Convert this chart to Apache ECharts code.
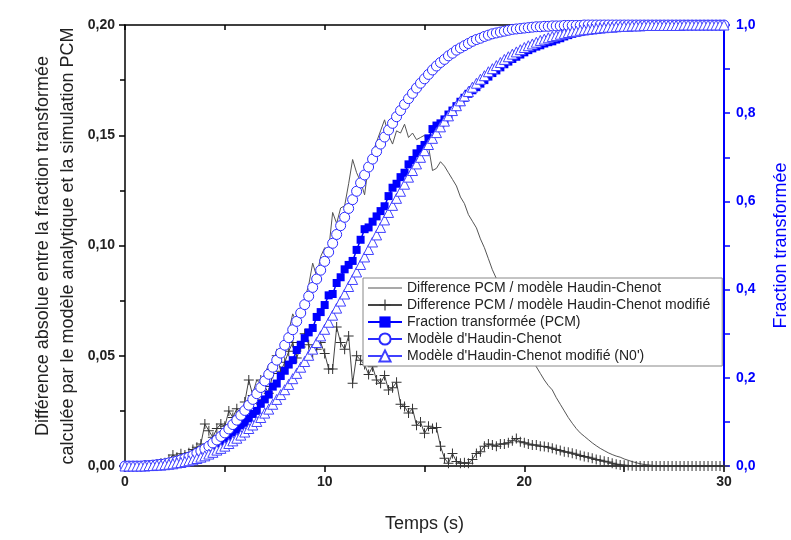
<!DOCTYPE html>
<html>
<head>
<meta charset="utf-8">
<script src="https://cdn.jsdelivr.net/npm/echarts@6/dist/echarts.min.js"></script>
<style>html,body{margin:0;padding:0;background:#fff;overflow:hidden}#c{width:791px;height:540px}</style>
</head>
<body>
<div id="c"></div>
<script>
var times = [
0,0.2,0.4,0.6,0.8, 1,1.2,1.4,1.6,1.8, 2,2.2,2.4,2.6,2.8, 3,3.2,3.4,3.6,3.8,
4,4.2,4.4,4.6,4.8, 5,5.2,5.4,5.6,5.8, 6,6.2,6.4,6.6,6.8, 7,7.2,7.4,7.6,7.8,
8,8.2,8.4,8.6,8.8, 9,9.2,9.4,9.6,9.8, 10,10.2,10.4,10.6,10.8, 11,11.2,11.4,11.6,11.8,
12,12.2,12.4,12.6,12.8, 13,13.2,13.4,13.6,13.8, 14,14.2,14.4,14.6,14.8, 15,15.2,15.4,15.6,15.8,
16,16.2,16.4,16.6,16.8, 17,17.2,17.4,17.6,17.8, 18,18.2,18.4,18.6,18.8, 19,19.2,19.4,19.6,19.8,
20,20.2,20.4,20.6,20.8, 21,21.2,21.4,21.6,21.8, 22,22.2,22.4,22.6,22.8, 23,23.2,23.4,23.6,23.8,
24,24.2,24.4,24.6,24.8, 25,25.2,25.4,25.6,25.8, 26,26.2,26.4,26.6,26.8, 27,27.2,27.4,27.6,27.8,
28,28.2,28.4,28.6,28.8, 29,29.2,29.4,29.6,29.8, 30];

// Différence PCM / modèle Haudin-Chenot (left axis)
var diffHC = [
0,0,0,0,0, 0.0003,0.0004,0.0006,0.0008,0.0010, 0.0012,0.0015,0.0018,0.0022,0.0026, 0.0032,0.0038,0.0045,0.0052,0.0060,
0.0072,0.0080,0.0092,0.0110,0.0122, 0.0135,0.0160,0.0175,0.0215,0.0230, 0.0280,0.0300,0.0330,0.0390,0.0370, 0.0420,0.0460,0.0440,0.0530,0.0520,
0.0580,0.0610,0.0690,0.0650,0.0720, 0.0760,0.0820,0.0920,0.0860,0.0950, 0.0990,0.0980,0.1150,0.1100,0.1170, 0.1180,0.1280,0.1390,0.1330,0.1290,
0.1230,0.1370,0.1420,0.1470,0.1520, 0.1570,0.1500,0.1460,0.1520,0.1510, 0.1550,0.1490,0.1510,0.1480,0.1490, 0.1500,0.1450,0.1340,0.1350,0.1380,
0.1360,0.1330,0.1300,0.1270,0.1220, 0.1190,0.1140,0.1110,0.1080,0.1030, 0.0990,0.0940,0.0890,0.0850,0.0800, 0.0750,0.0710,0.0670,0.0630,0.0590,
0.0550,0.0510,0.0480,0.0450,0.0420, 0.0390,0.0365,0.0345,0.0310,0.0280, 0.0250,0.0220,0.0194,0.0170,0.0150, 0.0135,0.0120,0.0105,0.0092,0.0080,
0.0070,0.0060,0.0052,0.0045,0.0040, 0.0032,0.0026,0.0020,0.0015,0.0010, 0.0007,0.0005,0.0003,0.0002,0.0001, 0,0,0,0,0,
0,0,0,0,0, 0,0,0,0,0, 0];

// Différence PCM / modèle Haudin-Chenot modifié (left axis)
var diffHCmod = [
0,0,0,0,0, 0.0002,0.0003,0.0005,0.0008,0.0012, 0.0015,0.0030,0.0050,0.0040,0.0055, 0.0050,0.0060,0.0075,0.0085,0.0100,
0.0190,0.0160,0.0130,0.0170,0.0190, 0.0180,0.0250,0.0220,0.0260,0.0240, 0.0290,0.0390,0.0320,0.0300,0.0390, 0.0360,0.0330,0.0420,0.0500,0.0430,
0.0470,0.0520,0.0560,0.0490,0.0540, 0.0600,0.0550,0.0510,0.0530,0.0560, 0.0510,0.0440,0.0440,0.0630,0.0560, 0.0530,0.0590,0.0375,0.0500,0.0480,
0.0460,0.0415,0.0450,0.0390,0.0375, 0.0410,0.0345,0.0355,0.0380,0.0280, 0.0270,0.0240,0.0260,0.0185,0.0200, 0.0148,0.0180,0.0170,0.0175,0.0090,
0.0035,0.0012,0.0057,0.0020,0.0012, 0.0015,0.0012,0.0030,0.0057,0.0065, 0.0090,0.0100,0.0095,0.0090,0.0100, 0.0100,0.0105,0.0115,0.0125,0.0110,
0.0105,0.0100,0.0095,0.0095,0.0090, 0.0088,0.0085,0.0080,0.0075,0.0070, 0.0065,0.0062,0.0058,0.0053,0.0048, 0.0043,0.0040,0.0035,0.0030,0.0026,
0.0022,0.0018,0.0013,0.0008,0.0005, 0.0003,0.0002,0.0001,0,0, 0,0,0,0,0, 0,0,0,0,0,
0,0,0,0,0, 0,0,0,0,0, 0];

// Fraction transformée (PCM) (right axis)
var fracPCM = [
0,0,0,0,0, 0,0.001,0.001,0.002,0.003, 0.004,0.005,0.007,0.009,0.011, 0.013,0.016,0.020,0.024,0.028,
0.032,0.037,0.043,0.048,0.055, 0.062,0.068,0.076,0.082,0.092, 0.098,0.108,0.118,0.125,0.141, 0.151,0.162,0.180,0.187,0.204,
0.216,0.230,0.240,0.263,0.275, 0.290,0.303,0.313,0.338,0.349, 0.365,0.387,0.390,0.415,0.428, 0.446,0.456,0.465,0.490,0.513,
0.537,0.541,0.554,0.566,0.578, 0.589,0.612,0.631,0.640,0.655, 0.665,0.684,0.694,0.709,0.719, 0.728,0.743,0.764,0.772,0.777,
0.786,0.797,0.806,0.816,0.826, 0.835,0.844,0.852,0.859,0.867, 0.875,0.883,0.891,0.897,0.904, 0.911,0.917,0.923,0.928,0.933,
0.938,0.943,0.947,0.951,0.954, 0.958,0.961,0.963,0.967,0.970, 0.974,0.977,0.980,0.982,0.984, 0.986,0.988,0.989,0.991,0.992,
0.993,0.994,0.995,0.995,0.996, 0.997,0.997,0.998,0.998,0.999, 0.999,1,1,1,1, 1,1,1,1,1,
1,1,1,1,1, 1,1,1,1,1, 1];

// Modèle d'Haudin-Chenot (right axis)
var modelHC = [
0,0,0,0,0, 0.001,0.001,0.002,0.003,0.004, 0.005,0.007,0.009,0.011,0.014, 0.017,0.020,0.024,0.029,0.034,
0.039,0.045,0.052,0.059,0.067, 0.075,0.084,0.094,0.104,0.115, 0.126,0.138,0.151,0.164,0.178, 0.193,0.208,0.224,0.240,0.256,
0.274,0.291,0.309,0.328,0.347, 0.366,0.385,0.405,0.424,0.444, 0.464,0.485,0.505,0.525,0.545, 0.564,0.584,0.604,0.623,0.642,
0.660,0.678,0.696,0.713,0.730, 0.746,0.762,0.777,0.792,0.806, 0.820,0.833,0.845,0.857,0.868, 0.878,0.888,0.898,0.907,0.915,
0.922,0.930,0.936,0.943,0.948, 0.953,0.958,0.963,0.967,0.970, 0.974,0.977,0.980,0.982,0.984, 0.986,0.988,0.990,0.991,0.992,
0.993,0.994,0.995,0.996,0.996, 0.997,0.997,0.998,0.998,0.998, 0.999,0.999,0.999,0.999,0.999, 1,1,1,1,1,
1,1,1,1,1, 1,1,1,1,1, 1,1,1,1,1, 1,1,1,1,1,
1,1,1,1,1, 1,1,1,1,1, 1];

// Modèle d'Haudin-Chenot modifié (N0') (right axis)
var modelHCmod = [
0,0,0,0,0, 0,0.001,0.001,0.002,0.002, 0.003,0.004,0.005,0.007,0.008, 0.010,0.012,0.014,0.017,0.020,
0.023,0.027,0.031,0.036,0.040, 0.045,0.051,0.057,0.063,0.070, 0.077,0.085,0.093,0.101,0.110, 0.120,0.129,0.140,0.151,0.162,
0.173,0.185,0.198,0.210,0.224, 0.237,0.251,0.265,0.280,0.295, 0.310,0.326,0.342,0.358,0.374, 0.390,0.407,0.423,0.440,0.457,
0.474,0.491,0.508,0.524,0.541, 0.558,0.575,0.591,0.607,0.623, 0.639,0.655,0.670,0.685,0.700, 0.715,0.729,0.743,0.756,0.769,
0.782,0.794,0.806,0.817,0.828, 0.839,0.849,0.859,0.868,0.877, 0.885,0.894,0.901,0.908,0.915, 0.922,0.928,0.934,0.939,0.944,
0.949,0.953,0.957,0.961,0.965, 0.968,0.971,0.974,0.976,0.979, 0.981,0.983,0.985,0.986,0.988, 0.989,0.990,0.991,0.992,0.993,
0.994,0.995,0.995,0.996,0.997, 0.997,0.997,0.998,0.998,0.998, 0.999,0.999,0.999,0.999,0.999, 0.999,0.999,0.999,0.999,0.999,
1,1,1,1,1, 1,1,1,1,1, 1];

var xLabels = {0:'0', 10:'10', 20:'20', 30:'30'};
var yLeftTitleLines = ['Différence absolue entre la fraction transformée',
                       'calculée par le modèle analytique et la simulation PCM'];
var yRightTitle = 'Fraction transformée';
var xTitle = 'Temps (s)';
var seriesNames = [
  'Difference PCM / modèle Haudin-Chenot',
  'Difference PCM / modèle Haudin-Chenot modifié',
  'Fraction transformée (PCM)',
  "Modèle d'Haudin-Chenot",
  "Modèle d'Haudin-Chenot modifié (N0')"
];

function pairs(ys){ return times.map(function(t,i){ return [t, ys[i]]; }); }

var FONT = '"Liberation Sans", Arial, sans-serif';
var BLUE = '#0000ff';
var plus = 'path://M4.5,0 L5.5,0 L5.5,4.5 L10,4.5 L10,5.5 L5.5,5.5 L5.5,10 L4.5,10 L4.5,5.5 L0,5.5 L0,4.5 L4.5,4.5 Z';
var lineIcon = 'path://M0,0 L34,0 L34,1 L0,1 Z';

var chart = echarts.init(document.getElementById('c'), null, {renderer:'canvas', width: 791, height: 540});
chart.setOption({
  animation: false,
  backgroundColor: '#fff',
  grid: {left:125, right:67, top:25, bottom:74, containLabel:false, outerBoundsMode: 'none'},
  graphic: [{
    type: 'text', x: 43, y: 246, rotation: Math.PI / 2,
    style: {text: yLeftTitleLines[0], fontFamily: FONT, fontSize: 18, fill: '#222', align: 'center', verticalAlign: 'middle'}
  }, {
    type: 'text', x: 68, y: 246, rotation: Math.PI / 2,
    style: {text: yLeftTitleLines[1], fontFamily: FONT, fontSize: 18, fill: '#222', align: 'center', verticalAlign: 'middle'}
  }],
  legend: {
    orient: 'vertical', left: 363, top: 278,
    backgroundColor: '#fff', borderColor: '#888', borderWidth: 1,
    padding: [3, 12, 3, 4], itemGap: 3, itemWidth: 34, itemHeight: 14,
    textStyle: {fontFamily: FONT, fontSize: 14, color: '#222'},
    data: [
      {name: seriesNames[0], icon: lineIcon, itemStyle: {color: '#555'}},
      seriesNames[1], seriesNames[2], seriesNames[3], seriesNames[4]
    ]
  },
  xAxis: [{
    type: 'value', min: 0, max: 30, interval: 5, position: 'bottom',
    name: xTitle, nameLocation: 'middle', nameGap: 49,
    nameTextStyle: {fontFamily: FONT, fontSize: 18, color: '#222'},
    axisLine: {show: true, onZero: false, lineStyle: {color: '#000', width: 1.5}},
    axisTick: {show: true, inside: false, length: 6, lineStyle: {color: '#000', width: 1.5}},
    axisLabel: {margin: 9, fontFamily: FONT, fontSize: 14, fontWeight: 'bold', color: '#222',
      formatter: function(v){ return xLabels[v] !== undefined ? xLabels[v] : ''; }},
    splitLine: {show: false}
  }, {
    type: 'value', min: 0, max: 30, interval: 5, position: 'top',
    axisLine: {show: true, onZero: false, lineStyle: {color: '#000', width: 1.5}},
    axisTick: {show: true, inside: true, length: 5, lineStyle: {color: '#000', width: 1.5}},
    axisLabel: {show: false}, splitLine: {show: false}
  }],
  yAxis: [{
    type: 'value', min: 0, max: 0.2, interval: 0.05, position: 'left',
    axisLine: {show: true, onZero: false, lineStyle: {color: '#000', width: 1.5}},
    axisTick: {show: true, inside: false, length: 6, lineStyle: {color: '#000', width: 1.5}},
    minorTick: {show: true, splitNumber: 2, length: 5, lineStyle: {color: '#000', width: 1.5}},
    axisLabel: {margin: 10, fontFamily: FONT, fontSize: 14, fontWeight: 'bold', color: '#222',
      formatter: function(v){ return v.toFixed(2).replace('.', ','); }},
    splitLine: {show: false}
  }, {
    type: 'value', min: 0, max: 1, interval: 0.1, position: 'right',
    name: yRightTitle, nameLocation: 'middle', nameGap: 48, nameRotate: 90,
    nameTextStyle: {fontFamily: FONT, fontSize: 18, color: BLUE},
    axisLine: {show: true, onZero: false, lineStyle: {color: BLUE, width: 2}},
    axisTick: {show: true, inside: false, length: 6, lineStyle: {color: BLUE, width: 1.5}},
    axisLabel: {margin: 12, fontFamily: FONT, fontSize: 14, fontWeight: 'bold', color: BLUE,
      formatter: function(v){ var k = Math.round(v*10); return (k % 2 === 0) ? v.toFixed(1).replace('.', ',') : ''; }},
    splitLine: {show: false}
  }],
  series: [{
    name: seriesNames[0], type: 'line', xAxisIndex: 0, yAxisIndex: 0,
    data: pairs(diffHC), symbol: 'none', showSymbol: false,
    lineStyle: {color: '#555', width: 1}, itemStyle: {color: '#555'}, z: 2
  }, {
    name: seriesNames[1], type: 'line', xAxisIndex: 0, yAxisIndex: 0,
    data: pairs(diffHCmod), symbol: plus, symbolSize: 10, showAllSymbol: true,
    lineStyle: {color: '#444', width: 1}, itemStyle: {color: '#333'}, z: 3
  }, {
    name: seriesNames[2], type: 'line', xAxisIndex: 0, yAxisIndex: 1,
    data: pairs(fracPCM), symbol: 'rect', symbolSize: 8, showAllSymbol: true,
    lineStyle: {color: BLUE, width: 1.5}, itemStyle: {color: BLUE}, z: 4
  }, {
    name: seriesNames[3], type: 'line', xAxisIndex: 0, yAxisIndex: 1,
    data: pairs(modelHC), symbol: 'circle', symbolSize: 10, showAllSymbol: true,
    lineStyle: {color: '#2a2aff', width: 1.2},
    itemStyle: {color: '#fff', borderColor: '#2a2aff', borderWidth: 1}, z: 5
  }, {
    name: seriesNames[4], type: 'line', xAxisIndex: 0, yAxisIndex: 1,
    data: pairs(modelHCmod), symbol: 'triangle', symbolSize: 10, showAllSymbol: true,
    lineStyle: {color: '#4040ff', width: 1.2},
    itemStyle: {color: '#fff', borderColor: '#4040ff', borderWidth: 1}, z: 6
  }]
});
</script>
</body>
</html>
